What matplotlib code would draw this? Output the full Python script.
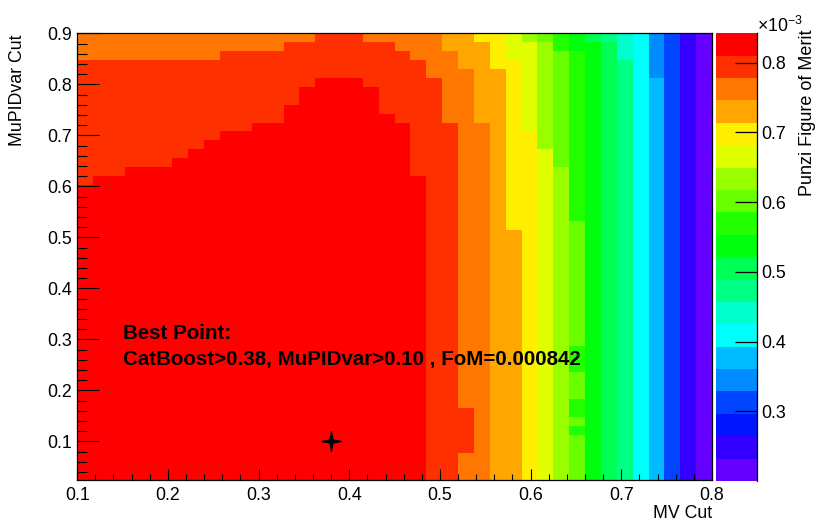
import colorsys
import numpy as np
import matplotlib
matplotlib.use("Agg")
import matplotlib.pyplot as plt
from matplotlib.colors import ListedColormap, BoundaryNorm
from matplotlib.path import Path
from matplotlib.lines import Line2D
from matplotlib.ticker import MultipleLocator, FixedLocator, FormatStrFormatter

plt.rcParams['font.family'] = ['Liberation Sans', 'DejaVu Sans']
plt.rcParams['mathtext.fontset'] = 'custom'
plt.rcParams['mathtext.rm'] = 'Liberation Sans'
plt.rcParams['mathtext.it'] = 'Liberation Sans:italic'

# ---------------------------------------------------------------- data
# Scan grid: MV (CatBoost) cut along x, MuPIDvar cut along y
mv_range = (0.1, 0.8)
n_mv_bins = 40
mupid_range = (0.025, 0.9)
n_mupid_bins = 50

# Punzi figure of merit (x 1e-3), one entry per MV-cut column, written as
# (FoM, number of MuPIDvar bins) runs from the top (MuPIDvar = 0.9) downwards
fom_runs = [
    [(0.762, 3), (0.794, 14), (0.826, 33)],   # 0.100
    [(0.762, 3), (0.794, 13), (0.826, 34)],
    [(0.762, 3), (0.794, 13), (0.826, 34)],
    [(0.762, 3), (0.794, 12), (0.826, 35)],
    [(0.762, 3), (0.794, 12), (0.826, 35)],
    [(0.762, 3), (0.794, 12), (0.826, 35)],
    [(0.762, 3), (0.794, 11), (0.826, 36)],
    [(0.762, 3), (0.794, 10), (0.826, 37)],
    [(0.762, 3), (0.794, 9), (0.826, 38)],
    [(0.762, 2), (0.794, 9), (0.826, 39)],
    [(0.762, 2), (0.794, 9), (0.826, 39)],
    [(0.762, 2), (0.794, 8), (0.826, 40)],
    [(0.762, 2), (0.794, 8), (0.826, 40)],
    [(0.762, 1), (0.794, 7), (0.826, 42)],
    [(0.762, 1), (0.794, 5), (0.826, 44)],
    [(0.794, 5), (0.826, 45)],
    [(0.794, 5), (0.826, 45)],
    [(0.794, 5), (0.826, 45)],
    [(0.762, 1), (0.794, 5), (0.826, 44)],
    [(0.762, 1), (0.794, 8), (0.826, 41)],
    [(0.762, 2), (0.794, 8), (0.826, 40)],     # 0.450
    [(0.762, 3), (0.794, 13), (0.826, 34)],
    [(0.762, 5), (0.794, 45)],
    [(0.730, 2), (0.762, 8), (0.794, 40)],
    [(0.730, 4), (0.762, 38), (0.794, 5), (0.762, 3)],
    [(0.697, 1), (0.730, 9), (0.762, 40)],
    [(0.697, 4), (0.730, 46)],
    [(0.665, 3), (0.697, 19), (0.730, 28)],
    [(0.633, 1), (0.665, 10), (0.697, 39)],
    [(0.601, 1), (0.633, 12), (0.665, 37)],
    [(0.569, 2), (0.601, 13), (0.633, 35)],    # 0.625
    [(0.537, 2), (0.569, 19), (0.601, 14), (0.569, 3), (0.601, 3),
     (0.569, 2), (0.601, 1), (0.569, 1), (0.601, 5)],
    [(0.505, 1), (0.537, 49)],
    [(0.473, 1), (0.505, 49)],
    [(0.441, 3), (0.473, 47)],
    [(0.409, 50)],
    [(0.345, 5), (0.377, 45)],
    [(0.312, 50)],
    [(0.248, 50)],
    [(0.216, 50)],                             # 0.7825
]

fom_min = 0.200          # x 1e-3
best_mv = 0.38
best_mupid = 0.10
best_fom = 0.842         # x 1e-3

cbar_ticks = [0.3, 0.4, 0.5, 0.6, 0.7, 0.8]
n_contours = 20

# ---------------------------------------------------------------- grid
mv_edges = np.linspace(*mv_range, n_mv_bins + 1)
mupid_edges = np.linspace(*mupid_range, n_mupid_bins + 1)

fom = np.empty((n_mupid_bins, n_mv_bins))
for ic, runs in enumerate(fom_runs):
    column = np.concatenate([np.full(n, v) for v, n in runs])
    fom[:, ic] = column[::-1]

ibx = min(np.searchsorted(mv_edges, best_mv, side='right') - 1, n_mv_bins - 1)
iby = min(np.searchsorted(mupid_edges, best_mupid, side='right') - 1, n_mupid_bins - 1)
fom[iby, ibx] = best_fom

# ---------------------------------------------------------------- palette
# 50-step "pretty" rainbow (violet -> red), sampled for 20 contour bands
pretty = []
for i in range(50):
    hue = 280.0 - (i + 1) * (280.0 / 50)
    pretty.append(colorsys.hls_to_rgb(hue / 360.0, 0.5, 1.0))
band_colors = [pretty[int((k + 0.99) * 50 / n_contours)] for k in range(n_contours)]
cmap = ListedColormap(band_colors)
cmap.set_over(band_colors[-1])
cmap.set_under(band_colors[0])
levels = np.linspace(fom_min, best_fom, n_contours + 1)
norm = BoundaryNorm(levels, n_contours)

# ---------------------------------------------------------------- figure
W, H = 819, 525
fig = plt.figure(figsize=(W / 100, H / 100), dpi=100)
fig.patch.set_facecolor('white')

x0, x1 = 77.2, 712.0
y0, y1 = 33.3, 479.6
ax = fig.add_axes([x0 / W, 1 - y1 / H, (x1 - x0) / W, (y1 - y0) / H])

mesh = ax.pcolormesh(mv_edges, mupid_edges, fom, cmap=cmap, norm=norm,
                     shading='flat', antialiased=False, linewidth=0)

ax.set_xlim(*mv_range)
ax.set_ylim(*mupid_range)

ax.xaxis.set_major_locator(FixedLocator(np.round(np.arange(0.1, 0.81, 0.1), 2)))
ax.xaxis.set_minor_locator(MultipleLocator(0.02))
ax.yaxis.set_major_locator(FixedLocator(np.round(np.arange(0.1, 0.91, 0.1), 2)))
ax.yaxis.set_minor_locator(MultipleLocator(0.02))
ax.xaxis.set_major_formatter(FormatStrFormatter('%.1f'))
ax.yaxis.set_major_formatter(FormatStrFormatter('%.1f'))

ax.tick_params(axis='x', which='major', direction='in', length=8, width=0.8,
               labelsize=12.8, pad=5, top=False)
ax.tick_params(axis='x', which='minor', direction='in', length=4, width=0.8, top=False)
ax.tick_params(axis='y', which='major', direction='in', length=15.5, width=0.8,
               labelsize=12.8, pad=4, right=False)
ax.tick_params(axis='y', which='minor', direction='in', length=7.5, width=0.8, right=False)
for s in ax.spines.values():
    s.set_linewidth(0.9)
    s.set_color('black')

# best point marker and annotation
star = Path([(0, 1), (0.15, 0.15), (1, 0), (0.15, -0.15), (0, -1),
             (-0.15, -0.15), (-1, 0), (-0.15, 0.15), (0, 1)],
            [Path.MOVETO] + [Path.LINETO] * 7 + [Path.CLOSEPOLY])
ax.plot([best_mv], [best_mupid], marker=star, markersize=14, color='black',
        linestyle='none')

ax.text(0.15, 0.30, "Best Point:", fontsize=14.8, fontweight='bold',
        ha='left', va='baseline')
ax.text(0.15, 0.25,
        f"CatBoost>{best_mv:.2f}, MuPIDvar>{best_mupid:.2f} , FoM={best_fom * 1e-3:.6f}",
        fontsize=14.8, fontweight='bold', ha='left', va='baseline')

# axis titles
fig.text(18 / W, 1 - 34 / H, "MuPIDvar Cut", rotation=90, ha='center', va='top',
         fontsize=12.8)
fig.text(712 / W, 1 - 513 / H, "MV Cut", ha='right', va='center', fontsize=12.8)

# ---------------------------------------------------------------- colour bar
cx0, cx1 = 716.0, 757.0
cy0, cy1 = 33.3, 481.0
cax = fig.add_axes([cx0 / W, 1 - cy1 / H, (cx1 - cx0) / W, (cy1 - cy0) / H])
cbar = fig.colorbar(mesh, cax=cax, ticks=cbar_ticks, extend='neither')
cbar.outline.set_visible(False)
cbar.set_ticklabels([f"{t:.1f}" for t in cbar_ticks])
cax.tick_params(axis='y', which='major', direction='in', length=16, width=0.9,
                labelsize=12.8, pad=3, right=True, left=False, color='black')
cax.tick_params(axis='y', which='minor', length=0)
cax.add_line(Line2D([1, 1], [0, 1], transform=cax.transAxes, color='black',
                    linewidth=0.9, clip_on=False))

fig.text(757 / W, 1 - 32 / H, r"$\times$10$^{-3}$", ha='left', va='baseline',
         fontsize=12.8)
fig.text(808 / W, 1 - 30 / H, "Punzi Figure of Merit", rotation=90,
         ha='center', va='top', fontsize=13)

fig.savefig("out.png", dpi=100)
